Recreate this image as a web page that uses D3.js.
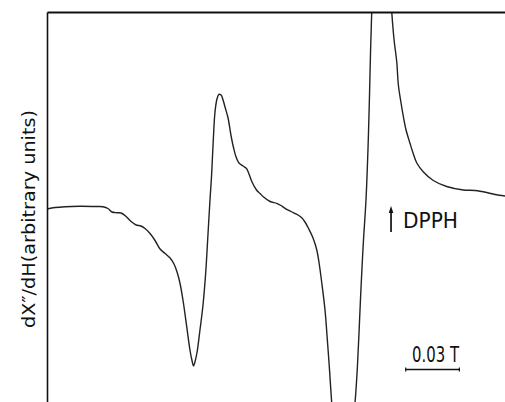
<!DOCTYPE html>
<html>
<head>
<meta charset="utf-8">
<script src="https://cdn.jsdelivr.net/npm/d3@7"></script>
<style>
  html, body { margin: 0; padding: 0; background: #fff; }
  svg { display: block; }
  text { font-family: "DejaVu Sans", "Liberation Sans", sans-serif; fill: #111; }
</style>
</head>
<body>
<svg id="chart" width="505" height="402"></svg>
<script>
// Magnetic field (mT) and EPR derivative signal dX''/dH (arbitrary units)
const field = [142.0,146.5,152.1,160.4,168.8,173.3,176.1,178.3,181.1,183.4,186.2,189.0,191.8,194.5,196.8,199.6,202.4,205.2,208.0,210.8,213.0,214.7,216.3,218.0,220.1,221.9,223.1,223.9,224.7,225.9,227.5,229.2,230.7,231.8,233.1,234.0,235.0,235.9,237.0,238.1,239.3,240.4,241.5,243.2,244.9,246.3,247.7,249.3,251.6,253.5,254.9,256.6,259.1,261.1,262.9,266.7,270.4,272.8,275.0,278.4,282.3,284.5,286.2,288.2,290.7,292.8,294.0,295.6,297.4,298.7,299.8,301.1,302.4,305.8,309.1,311.9,314.2,315.5,316.4,317.2,318.1,318.9,320.3,321.4,322.2,322.8,323.5,324.2,327.0,330.4,333.2,334.7,336.0,337.5,338.4,339.9,341.2,342.7,344.9,346.6,348.7,352.4,357.9,365.4,374.7,381.3,387.8,392.4,398.0];
const signal = [-2,-0.5,0.3,0.7,0.5,0.3,-1.5,-5,-5.7,-6,-9.5,-14.5,-18,-19,-21.5,-26.5,-33.5,-42,-46.5,-51,-57,-65,-76,-93,-119.7,-143,-154,-159,-155,-145,-123,-98,-66,-33,7,32,69,95,108,112.7,112,107,100,89,71,59,50,44,41,38.5,33,25,17,13.5,10.3,5.5,3.7,1.5,-1.3,-4.5,-8,-11,-15,-21.5,-31,-43,-55,-76,-103,-133,-159.7,-195,-223,-253,-258,-233,-195,-159.7,-126,-93,-59.7,-33,7,57,107,152,195,232,277,287,242,195,167,145,122,104,90.3,77,63.7,54,44,35,26.5,20.5,17,16.5,14.5,12.5,11];

const fieldDomain = [142, 398];      // mT
const signalDomain = [-195, 195];    // arbitrary units
const yLabel = "dX\u2033/dH(arbitrary  units)";
const markerLabel = "DPPH";
const markerField = [334.3];         // DPPH resonance position (mT)
const scaleBarLabel = "0.03 T";
const scaleBarField = [342.5, 372.5]; // 30 mT bar

const svg = d3.select("#chart");
const margin = {left: 47, top: 12, right: 0, bottom: 0};
const W = 505, H = 402;

const x = d3.scaleLinear().domain(fieldDomain).range([margin.left, W - margin.right]);
const y = d3.scaleLinear().domain(signalDomain).range([H - margin.bottom, margin.top]);

svg.append("defs").append("clipPath").attr("id", "plotclip")
  .append("rect")
  .attr("x", margin.left).attr("y", margin.top)
  .attr("width", W - margin.left - margin.right)
  .attr("height", H - margin.top - margin.bottom);

const data = field.map((f, i) => ({f, s: signal[i]}));

const line = d3.line()
  .x(d => x(d.f))
  .y(d => y(d.s))
  .curve(d3.curveCatmullRom.alpha(0.5));

svg.append("path")
  .datum(data)
  .attr("clip-path", "url(#plotclip)")
  .attr("fill", "none")
  .attr("stroke", "#222")
  .attr("stroke-width", 1.4)
  .attr("stroke-linejoin", "round")
  .attr("d", line);

// Frame: left axis and top axis without ticks
const leftAxis = d3.axisLeft(y).tickValues([]).tickSizeOuter(0);
const topAxis = d3.axisTop(x).tickValues([]).tickSizeOuter(0);
svg.append("g").attr("transform", `translate(${margin.left},0)`).call(leftAxis)
  .select(".domain").attr("stroke", "#111").attr("stroke-width", 1.6);
svg.append("g").attr("transform", `translate(0,${margin.top})`).call(topAxis)
  .select(".domain").attr("stroke", "#111").attr("stroke-width", 1.8);

// Y-axis label
svg.append("text")
  .attr("transform", "translate(35,219) rotate(-90)")
  .attr("text-anchor", "middle")
  .attr("font-size", 18.5)
  .attr("textLength", 218)
  .attr("lengthAdjust", "spacingAndGlyphs")
  .text(yLabel);

// DPPH marker arrow
const mx = x(markerField[0]);
svg.append("line")
  .attr("x1", mx).attr("x2", mx)
  .attr("y1", 232).attr("y2", 211)
  .attr("stroke", "#111").attr("stroke-width", 1.7);
svg.append("path")
  .attr("d", `M${mx - 2.3},${213} L${mx},${206} L${mx + 2.3},${213} Z`)
  .attr("fill", "#111");
svg.append("text")
  .attr("x", 403).attr("y", 227.5)
  .attr("font-size", 20.5)
  .attr("textLength", 55)
  .attr("lengthAdjust", "spacingAndGlyphs")
  .text(markerLabel);

// Scale bar
const sb0 = x(scaleBarField[0]), sb1 = x(scaleBarField[1]);
svg.append("text")
  .attr("x", (sb0 + sb1) / 2 + 3).attr("y", 362)
  .attr("text-anchor", "middle")
  .attr("font-size", 20.5)
  .attr("textLength", 47)
  .attr("lengthAdjust", "spacingAndGlyphs")
  .text(scaleBarLabel);
svg.append("line")
  .attr("x1", sb0).attr("x2", sb1)
  .attr("y1", 369.5).attr("y2", 369.5)
  .attr("stroke", "#111").attr("stroke-width", 1.6);
[sb0, sb1].forEach(v => {
  svg.append("line")
    .attr("x1", v).attr("x2", v)
    .attr("y1", 367.5).attr("y2", 371.5)
    .attr("stroke", "#111").attr("stroke-width", 1.2);
});
</script>
</body>
</html>
